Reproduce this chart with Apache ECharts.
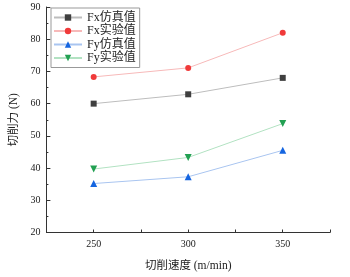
<!DOCTYPE html>
<html>
<head>
<meta charset="utf-8">
<script src="https://cdn.jsdelivr.net/npm/echarts@6/dist/echarts.min.js"></script>
<style>
html,body{margin:0;padding:0;background:#fff;}
#chart{width:350px;height:277px;}
</style>
</head>
<body>
<div id="chart"></div>
<script>
//切削速度
var speeds = [250, 300, 350];
//各组数据
var fxSim = [60.0, 62.9, 68.0];
var fxExp = [68.3, 71.1, 82.0];
var fySim = [35.2, 37.3, 45.5];
var fyExp = [39.7, 43.3, 53.8];
var seriesNames = ['Fx仿真值', 'Fx实验值', 'Fy仿真值', 'Fy实验值'];
var xLabels = [250, 300, 350];

var FONT = '"Liberation Serif", "Noto Sans CJK SC", serif';

function pairs(arr) {
	var out = [];
	for (var i = 0; i < speeds.length; i++) {
		out.push([speeds[i], arr[i]]);
	}
	return out;
}

function mk(name, data, symbol, mColor, lColor, size) {
	return {
		name: name,
		type: 'line',
		data: pairs(data),
		symbol: symbol,
		symbolSize: size,
		itemStyle: { color: mColor },
		lineStyle: { color: lColor, width: 1 },
		emphasis: { disabled: true }
	};
}

var myChart = echarts.init(document.getElementById('chart'));
var option = {
	animation: false,
	grid: { left: 42, right: 20, top: 7, bottom: 37.5 },
	legend: {
		orient: 'vertical',
		left: 51,
		top: 8,
		padding: [3, 4, 3, 2],
		borderColor: '#999',
		borderWidth: 1,
		itemWidth: 28,
		itemHeight: 8,
		itemGap: 0.5,
		textStyle: { fontFamily: FONT, fontSize: 12, color: '#222', lineHeight: 13 },
		data: seriesNames
	},
	xAxis: {
		type: 'value',
		min: 225,
		max: 375,
		interval: 25,
		name: '切削速度 (m/min)',
		nameLocation: 'middle',
		nameGap: 28,
		nameTextStyle: { fontFamily: FONT, fontSize: 11.5, color: '#222' },
		axisLine: { lineStyle: { color: '#333', width: 1 } },
		axisTick: { inside: true, length: 3, lineStyle: { color: '#333' } },
		axisLabel: {
			fontFamily: FONT, fontSize: 10, color: '#222', margin: 7,
			formatter: function (v) { return xLabels.indexOf(v) >= 0 ? v : ''; }
		},
		splitLine: { show: false }
	},
	yAxis: {
		type: 'value',
		min: 20,
		max: 90,
		interval: 10,
		name: '切削力 (N)',
		nameLocation: 'middle',
		nameGap: 26,
		nameTextStyle: { fontFamily: FONT, fontSize: 11.5, color: '#222' },
		axisLine: { show: true, lineStyle: { color: '#333', width: 1 } },
		axisTick: { show: true, inside: true, length: 4, lineStyle: { color: '#333' } },
		minorTick: { show: true, splitNumber: 2, length: 2, lineStyle: { color: '#333' } },
		axisLabel: { fontFamily: FONT, fontSize: 10, color: '#222', margin: 6 },
		splitLine: { show: false }
	},
	series: [
		mk(seriesNames[0], fxSim, 'rect', '#3f3f3f', '#bdbdbd', 6),
		mk(seriesNames[1], fxExp, 'circle', '#f03a3a', '#f7b9b9', 6),
		mk(seriesNames[2], fySim, 'triangle', '#1565e0', '#a9c5f0', 7),
		mk(seriesNames[3], fyExp, 'path://M0,0 L10,0 L5,9 Z', '#22a052', '#b2e2c2', 7)
	]
};
myChart.setOption(option);
</script>
</body>
</html>
